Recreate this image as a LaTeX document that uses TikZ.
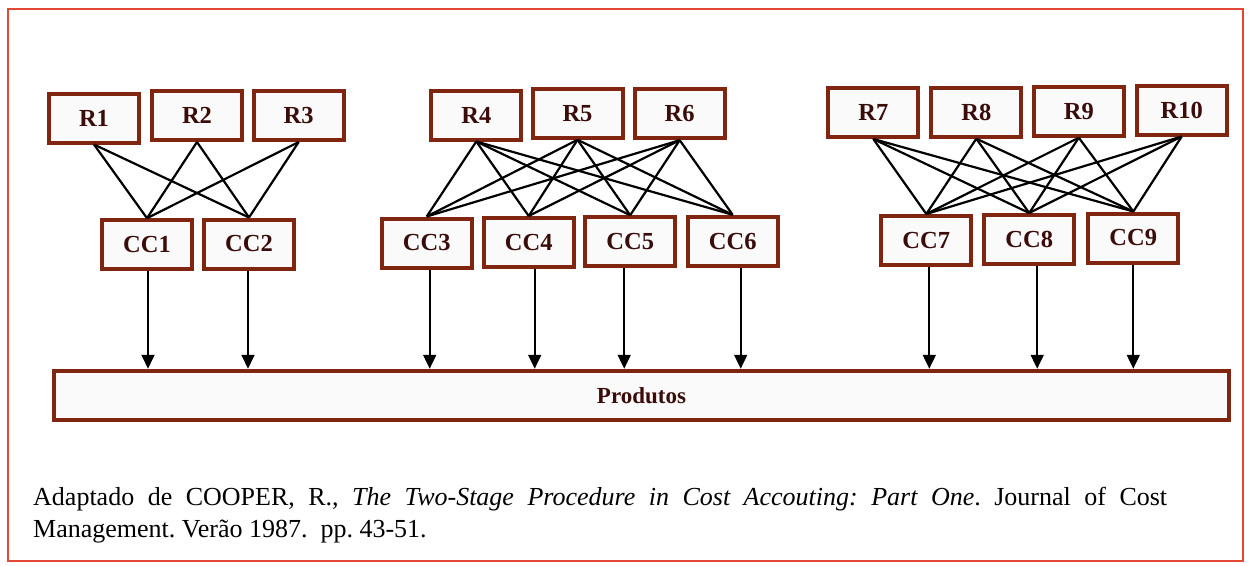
\documentclass[tikz,border=0pt]{standalone}
\usepackage{fontspec}
\setmainfont{Liberation Serif}
\usetikzlibrary{arrows.meta}

\definecolor{frameRed}{RGB}{226,72,52}
\definecolor{boxBrown}{RGB}{128,38,16}
\definecolor{labelInk}{RGB}{58,12,10}

\tikzset{
  unitbox/.style={draw=boxBrown, line width=4pt, fill=black!2, inner sep=0pt,
    minimum width=90pt, minimum height=49pt, text=labelInk,
    font=\fontsize{24.5}{28}\selectfont\bfseries},
  link/.style={draw=black, line width=2.2pt},
  feed/.style={draw=black, line width=1.9pt, -{Triangle[length=14pt,width=13pt]}},
  outerframe/.style={draw=frameRed, line width=1.6pt}
}

\begin{document}
\begin{tikzpicture}[x=1pt, y=-1pt]
\useasboundingbox (0,0) rectangle (1249,565);
\fill[white] (0,0) rectangle (1249,565);

% outer frame
\draw[outerframe] (8,9) rectangle (1243,561);

% first group
\node[unitbox] (R1)  at (94,118)    {R1};
\node[unitbox] (R2)  at (197,115.5) {R2};
\node[unitbox] (R3)  at (298.7,115.5) {R3};
\node[unitbox] (CC1) at (147,244.7) {CC1};
\node[unitbox] (CC2) at (249,244)   {CC2};

% second group
\node[unitbox] (R4)  at (476.3,115) {R4};
\node[unitbox] (R5)  at (577.5,113.3) {R5};
\node[unitbox] (R6)  at (679.7,113.7) {R6};
\node[unitbox] (CC3) at (426.7,243) {CC3};
\node[unitbox] (CC4) at (528.7,242.5) {CC4};
\node[unitbox] (CC5) at (630.2,241.7) {CC5};
\node[unitbox] (CC6) at (732.7,241.3) {CC6};

% third group
\node[unitbox] (R7)  at (873.3,112.5) {R7};
\node[unitbox] (R8)  at (976.3,112.2) {R8};
\node[unitbox] (R9)  at (1078.8,111.2) {R9};
\node[unitbox] (R10) at (1181.7,110) {R10};
\node[unitbox] (CC7) at (926.3,240.5) {CC7};
\node[unitbox] (CC8) at (1029.2,239.5) {CC8};
\node[unitbox] (CC9) at (1133.3,238) {CC9};

% products bar
\node[unitbox, minimum width=1175pt, minimum height=49.5pt,
      font=\fontsize{23}{27}\selectfont\bfseries] (P) at (641.5,395.5) {Produtos};

% resource-to-cost-centre links
\foreach \r in {R1,R2,R3}
  \foreach \c in {CC1,CC2}
    \draw[link] (\r.south) -- (\c.north);
\foreach \r in {R4,R5,R6}
  \foreach \c in {CC3,CC4,CC5,CC6}
    \draw[link] (\r.south) -- (\c.north);
\foreach \r in {R7,R8,R9,R10}
  \foreach \c in {CC7,CC8,CC9}
    \draw[link] (\r.south) -- (\c.north);

% cost centres feeding the products
\foreach \c/\dx in {CC1/1,CC2/-1,CC3/3,CC4/6,CC5/-6,CC6/8,CC7/3,CC8/8,CC9/0}
  \draw[feed] ([xshift=\dx pt]\c.south) -- ([xshift=\dx pt]\c.south |- P.north);

% source note
\node[anchor=north west, inner sep=0pt, text width=1134pt, align=justify,
      font=\fontsize{26}{32}\selectfont] (note) at (33,487)
  {\frenchspacing Adaptado de COOPER, R., \textit{The Two-Stage Procedure in Cost Accouting: Part One}. Journal of Cost\linebreak
   Management. Verão 1987.\ \ pp. 43-51.};
\end{tikzpicture}
\end{document}
